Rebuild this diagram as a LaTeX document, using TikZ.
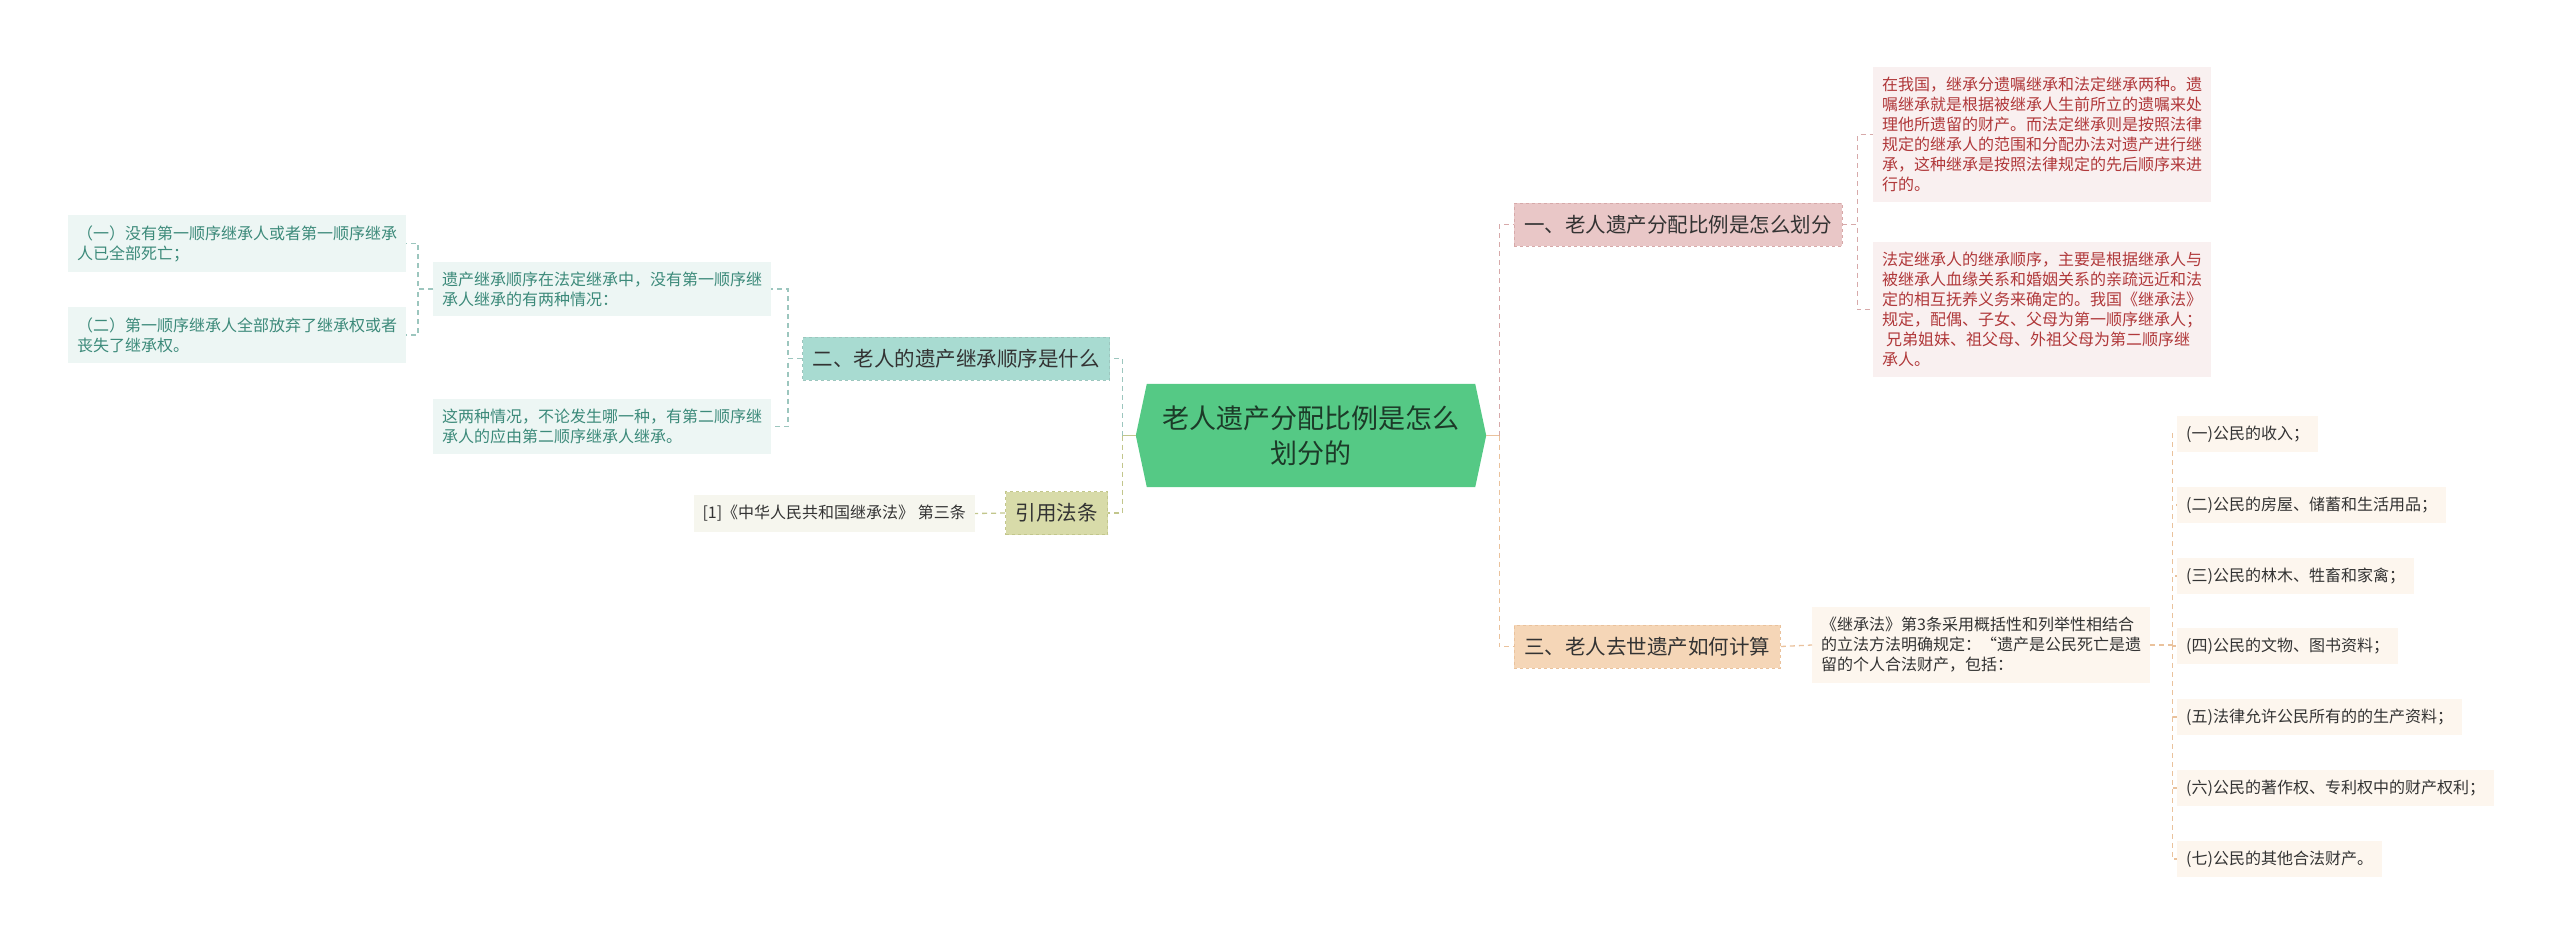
\documentclass[tikz,border=0pt]{standalone}
\usepackage{fontspec}
\setmainfont{Noto Sans CJK SC}
\definecolor{MmGreen}{HTML}{55C985}
\definecolor{MmGreenText}{HTML}{1C3A28}
\definecolor{MmPink}{HTML}{E9C7C7}
\definecolor{MmPinkLine}{HTML}{D7A9A9}
\definecolor{MmPinkLeaf}{HTML}{F9F0F0}
\definecolor{MmPinkText}{HTML}{B0383A}
\definecolor{MmPeach}{HTML}{F5D6B7}
\definecolor{MmPeachLine}{HTML}{EAC29C}
\definecolor{MmPeachLeaf}{HTML}{FDF6EE}
\definecolor{MmTeal}{HTML}{A8DBD1}
\definecolor{MmTealLine}{HTML}{9CC6BE}
\definecolor{MmTealLeaf}{HTML}{EDF6F4}
\definecolor{MmTealText}{HTML}{3C8A7A}
\definecolor{MmOlive}{HTML}{D8DBA9}
\definecolor{MmOliveLine}{HTML}{C2C68C}
\definecolor{MmOliveLeaf}{HTML}{F6F6EE}
\definecolor{MmInk}{HTML}{333333}
\usetikzlibrary{backgrounds}

\begin{document}
\begin{tikzpicture}[x=1pt,y=-1pt,
      topic/.style={draw,dashed,line width=0.9pt,inner xsep=10pt,inner ysep=12pt,
                    text=MmInk,font=\fontsize{20.5}{24}\selectfont},
      note/.style={inner xsep=9pt,inner ysep=10pt,align=left,
                   font=\fontsize{16}{20}\selectfont},
      pkNote/.style={note,fill=MmPinkLeaf,text=MmPinkText},
      peNote/.style={note,fill=MmPeachLeaf,text=MmInk},
      tlNote/.style={note,fill=MmTealLeaf,text=MmTealText},
      olNote/.style={note,fill=MmOliveLeaf,text=MmInk},
      link/.style={line width=1.3pt,dash pattern=on 5pt off 4pt}]
    \useasboundingbox (0,0) rectangle (2560,946);

    % centre
    \node[minimum width=350pt,minimum height=103pt,align=center,text=MmGreenText,
          font=\fontsize{27}{35}\selectfont] (root) at (1311,435.5)
      {老人遗产分配比例是怎么\\划分的};
    \begin{scope}[on background layer]
      \fill[MmGreen] (root.west) -- ([xshift=11pt]root.north west) -- ([xshift=-11pt]root.north east)
        -- (root.east) -- ([xshift=-11pt]root.south east) -- ([xshift=11pt]root.south west) -- cycle;
    \end{scope}

    % right side
    \node[topic,fill=MmPink,draw=MmPinkLine,anchor=west] (b1) at (1514,224.5) {一、老人遗产分配比例是怎么划分};
    \node[topic,fill=MmPeach,draw=MmPeachLine,anchor=west] (b3) at (1514,646.5) {三、老人去世遗产如何计算};

    \node[pkNote,anchor=north west] (p1) at (1873,67)
      {在我国，继承分遗嘱继承和法定继承两种。遗\\嘱继承就是根据被继承人生前所立的遗嘱来处\\理他所遗留的财产。而法定继承则是按照法律\\规定的继承人的范围和分配办法对遗产进行继\\承，这种继承是按照法律规定的先后顺序来进\\行的。};
    \node[pkNote,anchor=north west] (p2) at (1873,242)
      {法定继承人的继承顺序，主要是根据继承人与\\被继承人血缘关系和婚姻关系的亲疏远近和法\\定的相互抚养义务来确定的。我国《继承法》\\规定，配偶、子女、父母为第一顺序继承人；\\\hspace{4pt}兄弟姐妹、祖父母、外祖父母为第二顺序继\\承人。};

    \node[peNote,anchor=west] (law) at (1812,645)
      {《继承法》第3条采用概括性和列举性相结合\\的立法方法明确规定：“遗产是公民死亡是遗\\留的个人合法财产，包括：};
    \node[peNote,anchor=west] (i1) at (2177,434) {(一)公民的收入；};
    \node[peNote,anchor=west] (i2) at (2177,505) {(二)公民的房屋、储蓄和生活用品；};
    \node[peNote,anchor=west] (i3) at (2177,576) {(三)公民的林木、牲畜和家禽；};
    \node[peNote,anchor=west] (i4) at (2177,646) {(四)公民的文物、图书资料；};
    \node[peNote,anchor=west] (i5) at (2177,717) {(五)法律允许公民所有的的生产资料；};
    \node[peNote,anchor=west] (i6) at (2177,788) {(六)公民的著作权、专利权中的财产权利；};
    \node[peNote,anchor=west] (i7) at (2177,859) {(七)公民的其他合法财产。};

    % left side
    \node[topic,fill=MmTeal,draw=MmTealLine,anchor=east] (b2) at (1110,358.5) {二、老人的遗产继承顺序是什么};
    \node[topic,fill=MmOlive,draw=MmOliveLine,anchor=east] (cite) at (1108,513) {引用法条};

    \node[tlNote,anchor=west] (t1) at (433,289)
      {遗产继承顺序在法定继承中，没有第一顺序继\\承人继承的有两种情况：};
    \node[tlNote,anchor=west] (t2) at (433,426.5)
      {这两种情况，不论发生哪一种，有第二顺序继\\承人的应由第二顺序继承人继承。};
    \node[tlNote,anchor=west] (g1) at (68,243.5)
      {（一）没有第一顺序继承人或者第一顺序继承\\人已全部死亡；};
    \node[tlNote,anchor=west] (g2) at (68,335)
      {（二）第一顺序继承人全部放弃了继承权或者\\丧失了继承权。};
    \node[olNote,anchor=east] (ref) at (975,513.5) {[1]《中华人民共和国继承法》 第三条};

    % connectors
    \draw[MmPeachLine,line width=1.5pt] (root.east) -- ++(13,0) coordinate (rt);
    \draw[link,MmPinkLine] (rt) |- (b1.west);
    \draw[link,MmPeachLine] (rt) |- (b3.west);
    \draw[link,MmPinkLine] (b1.east) -- ++(15,0) |- (p1.west);
    \draw[link,MmPinkLine] (b1.east) -- ++(15,0) |- (p2.west);
    \draw[link,MmPeachLine] (b3.east) -- (law.west);
    \draw[link,MmPeachLine] (law.east) -- ++(22,0) coordinate (lt);
    \draw[link,MmPeachLine] (lt) |- (i1.west);
    \draw[link,MmPeachLine] (lt) |- (i2.west);
    \draw[link,MmPeachLine] (lt) |- (i3.west);
    \draw[link,MmPeachLine] (lt) |- (i4.west);
    \draw[link,MmPeachLine] (lt) |- (i5.west);
    \draw[link,MmPeachLine] (lt) |- (i6.west);
    \draw[link,MmPeachLine] (lt) |- (i7.west);

    \draw[MmOliveLine,line width=1.5pt] (root.west) -- ++(-13,0) coordinate (lf);
    \draw[link,MmTealLine] (lf) |- (b2.east);
    \draw[link,MmOliveLine] (lf) |- (cite.east);
    \draw[link,MmTealLine] (b2.west) -- ++(-14,0) |- (t1.east);
    \draw[link,MmTealLine] (b2.west) -- ++(-14,0) |- (t2.east);
    \draw[link,MmTealLine] (t1.west) -- ++(-15,0) |- (g1.east);
    \draw[link,MmTealLine] (t1.west) -- ++(-15,0) |- (g2.east);
    \draw[link,MmOliveLine] (cite.west) -- (ref.east);
  \end{tikzpicture}
\end{document}
